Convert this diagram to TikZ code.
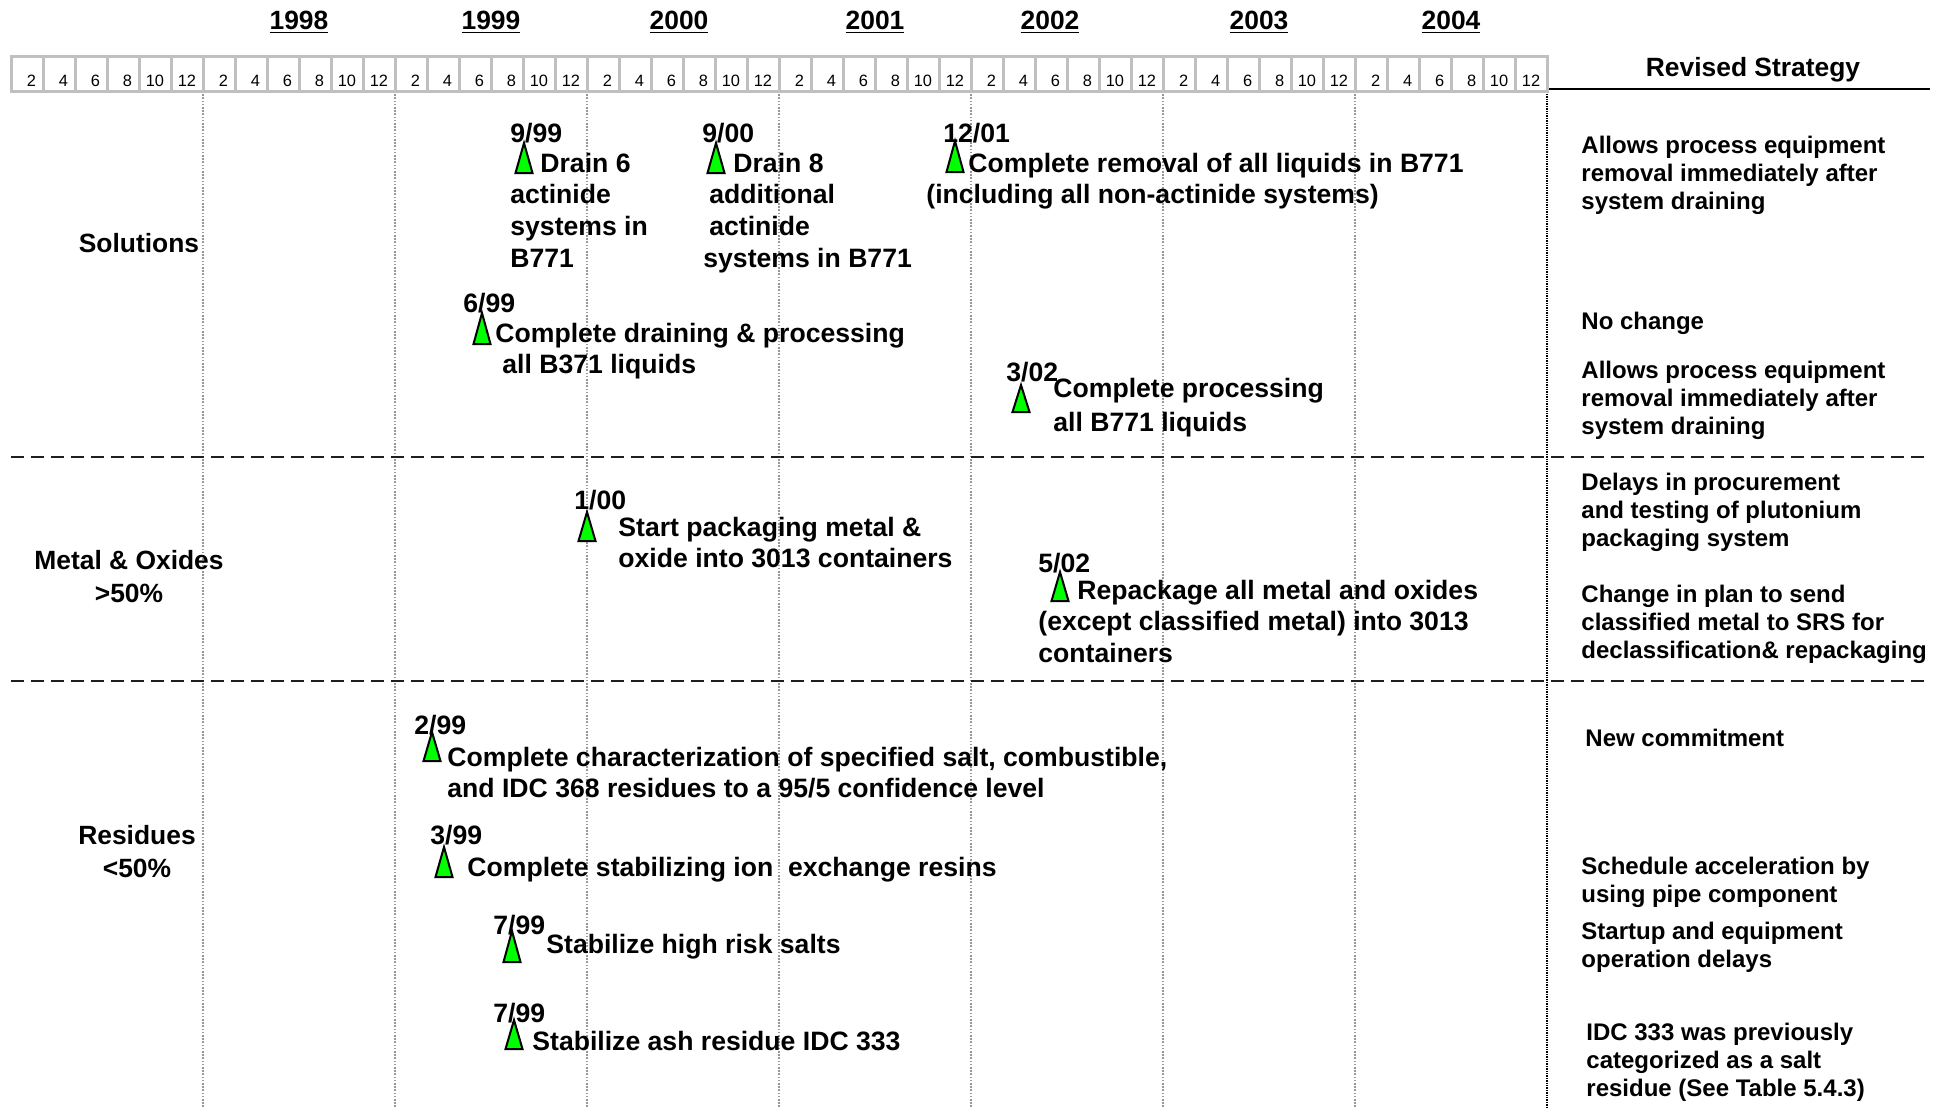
\documentclass[tikz,border=0pt]{standalone}
\usepackage{fontspec}
\setmainfont{Liberation Sans}
\newcommand\mlines[1]{\begin{tabular}[t]{@{}l@{}}#1\end{tabular}}
\newcommand\clines[1]{\begin{tabular}[t]{@{}c@{}}#1\end{tabular}}
\newcommand\mtri[3]{\filldraw[tri] (#1,#2) -- (#1+8.5,#3) -- (#1-8.5,#3) -- cycle;}
\definecolor{mgreen}{RGB}{0,255,0}
\definecolor{cellgray}{RGB}{192,192,192}
\definecolor{gridgray}{RGB}{150,150,150}
\definecolor{sepgray}{RGB}{30,30,30}
\tikzset{
  ms/.style={font=\fontsize{13.3}{15.85}\selectfont\bfseries, inner sep=0pt, anchor=base west},
  rs/.style={font=\fontsize{12}{14.2}\selectfont\bfseries, inner sep=0pt, anchor=base west},
  cat/.style={font=\fontsize{13.2}{16.5}\selectfont\bfseries, inner sep=0pt, anchor=base},
  yr/.style={font=\fontsize{13.2}{15}\selectfont\bfseries, inner sep=0pt, anchor=base},
  num/.style={font=\fontsize{8.2}{10}\selectfont, inner sep=0pt, anchor=base east},
  tri/.style={fill=mgreen, draw=black, line width=1pt},
  cellbox/.style={draw=cellgray, line width=1.5pt},
  grid/.style={draw=gridgray, line width=0.6pt, dash pattern=on 0.8pt off 0.8pt},
  divider/.style={draw=black, line width=1.2pt, dash pattern=on 0.7pt off 0.5pt},
  sep/.style={draw=sepgray, line width=1pt, dash pattern=on 6.5pt off 3.5pt},
}
\begin{document}
\begin{tikzpicture}[x=0.5pt,y=-0.5pt]
\useasboundingbox[fill=white] (0,0) rectangle (1946,1108);

% vertical grid lines
\foreach \k in {0,...,6}{
  \draw[grid] (203+192*\k,91) -- (203+192*\k,1108);
}
\draw[divider] (1547,89) -- (1547,1108);
\draw[black, line width=1pt] (1547,89) -- (1930,89);

% horizontal separators
\draw[sep] (11,457) -- (1930,457);
\draw[sep] (11,681) -- (1930,681);

% header cells
\foreach \g in {0,...,7}{
  \foreach \k in {1,...,6}{
    \pgfmathtruncatemacro\num{2*\k}
    \draw[cellbox] (11+192*\g+32*\k-32,56) rectangle (11+192*\g+32*\k,91);
    \node[num] (c\g-\k) at (11+192*\g+32*\k-6.5,86) {\num};
  }
}
% years
\foreach \y/\xx in {1998/299,1999/491,2000/679,2001/875,2002/1050,2003/1259,2004/1451}{
  \node[yr] (y\y) at (\xx,29) {\underline{\y}};
}
\node[yr] (rshead) at (1753,76) {Revised Strategy};

% category labels
\node[cat] (solutions) at (139,252) {Solutions};
\node[cat] (metal) at (129,569) {\clines{Metal \& Oxides\\>50\%}};
\node[cat] (residues) at (137,844) {\clines{Residues\\<50\%}};

% milestone 9/99
\node[ms] (d1) at (510,142) {9/99};
\mtri{524}{143}{173}
\node[ms] (t1) at (510,172) {\mlines{\hspace*{15pt}Drain 6\\actinide\\systems in\\B771}};

% milestone 9/00
\node[ms] (d2) at (702,142) {9/00};
\mtri{716}{143}{173}
\node[ms] (t2) at (703,172) {\mlines{\hspace*{15pt}Drain 8\\\hspace*{3pt}additional\\\hspace*{3pt}actinide\\systems in B771}};

% milestone 12/01
\node[ms] (d3) at (943,142) {12/01};
\mtri{955}{141}{172}
\node[ms] (t3) at (926,172) {\mlines{\hspace*{21pt}Complete removal of all liquids in B771\\(including all non-actinide systems)}};

% milestone 6/99
\node[ms] (d4) at (463,312) {6/99};
\mtri{482}{313}{344}
\node[ms] (t4) at (495,342) {\mlines{Complete draining \& processing\\\hspace*{3.5pt}all B371 liquids}};

% milestone 3/02
\node[ms] (d5) at (1006,381) {3/02};
\mtri{1021}{385}{412}
\node[ms] (t5) at (1053,397) {\mlines{Complete processing\\[1.5pt]all B771 liquids}};

% milestone 1/00
\node[ms] (d6) at (574,509) {1/00};
\mtri{587}{512}{541}
\node[ms] (t6) at (618,536) {\mlines{Start packaging metal \&\\oxide into 3013 containers}};

% milestone 5/02
\node[ms] (d7) at (1038,572) {5/02};
\mtri{1060}{572}{601}
\node[ms] (t7) at (1038,599) {\mlines{\hspace*{19.5pt}Repackage all metal and oxides\\(except classified metal) into 3013\\containers}};

% milestone 2/99
\node[ms] (d8) at (414,734) {2/99};
\mtri{432}{732}{761}
\node[ms] (t8) at (447,766) {\mlines{Complete characterization of specified salt, combustible,\\and IDC 368 residues to a 95/5 confidence level}};

% milestone 3/99
\node[ms] (d9) at (430,844) {3/99};
\mtri{444}{847}{877}
\node[ms] (t9) at (467,876) {Complete stabilizing ion\ \ exchange resins};

% milestone 7/99 (salts)
\node[ms] (d10) at (493,934) {7/99};
\mtri{512}{931}{962}
\node[ms] (t10) at (546,953) {Stabilize high risk salts};

% milestone 7/99 (ash)
\node[ms] (d11) at (493,1022) {7/99};
\mtri{514}{1020}{1049}
\node[ms] (t11) at (532,1050) {Stabilize ash residue IDC 333};

% revised strategy column
\node[rs] (r1) at (1581,153) {\mlines{Allows process equipment\\removal immediately after\\system draining}};
\node[rs] (r2) at (1581,329) {No change};
\node[rs] (r3) at (1581,378) {\mlines{Allows process equipment\\removal immediately after\\system draining}};
\node[rs] (r4) at (1581,490) {\mlines{Delays in procurement\\and testing of plutonium\\packaging system}};
\node[rs] (r5) at (1581,602) {\mlines{Change in plan to send\\classified metal to SRS for\\declassification\& repackaging}};
\node[rs] (r6) at (1585,746) {New commitment};
\node[rs] (r7) at (1581,874) {\mlines{Schedule acceleration by\\using pipe component}};
\node[rs] (r8) at (1581,939) {\mlines{Startup and equipment\\operation delays}};
\node[rs] (r9) at (1586,1040) {\mlines{IDC 333 was previously\\categorized as a salt\\residue (See Table 5.4.3)}};
\end{tikzpicture}
\end{document}
